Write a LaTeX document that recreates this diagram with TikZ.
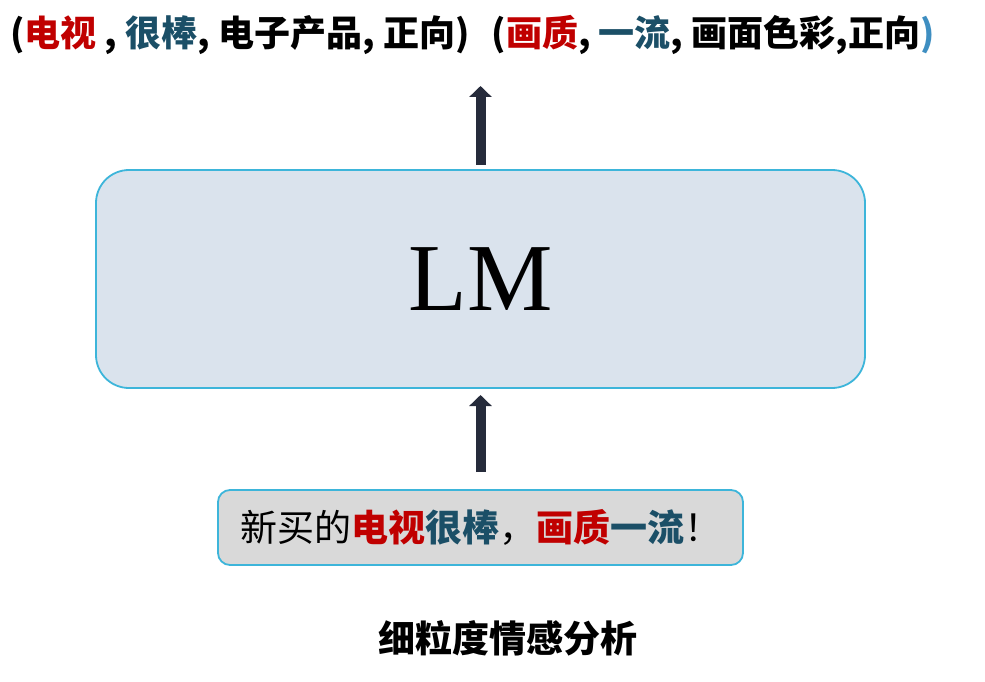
\documentclass[tikz,border=0pt]{standalone}
\usepackage{fontspec}
\usepackage{tikz}
\usetikzlibrary{arrows.meta}
\setmainfont{Liberation Serif}
\newfontfamily\cjk{Noto Sans CJK SC}
\definecolor{pdfcolor1}{RGB}{38,43,59}
\definecolor{pdfcolor2}{RGB}{61,181,218}
\definecolor{pdfcolor3}{RGB}{218,227,237}
\definecolor{pdfcolor4}{RGB}{192,0,0}
\definecolor{pdfcolor5}{RGB}{217,217,217}
\definecolor{pdfcolor7}{RGB}{27,79,103}
\definecolor{pdfcolor8}{RGB}{62,142,193}

\begin{document}
\begin{tikzpicture}[x=1bp,y=-1bp,inner sep=0pt,outer sep=0pt,
  lmbox/.style={draw=pdfcolor2,fill=pdfcolor3,line width=1.8bp,rounded corners=33bp,minimum width=769bp,minimum height=218bp},
  inbox/.style={draw=pdfcolor2,fill=pdfcolor5,line width=1.8bp,rounded corners=12bp,minimum width=525bp,minimum height=75bp},
  blockarrow/.style={draw=pdfcolor1,line width=10bp,-{Triangle[width=22bp,length=11bp]}}]
  \useasboundingbox (0,0) rectangle (985,682);
  \node[anchor=west] (out) at (10,35) {{\cjk\bfseries\fontsize{36bp}{43bp}\selectfont (\textcolor{pdfcolor4}{电视} , \textcolor{pdfcolor7}{很棒}, 电子产品, 正向)\hspace{22bp}(\textcolor{pdfcolor4}{画质}, \textcolor{pdfcolor7}{一流}, 画面色彩,正向\textcolor{pdfcolor8}{)}}};
  \coordinate (outtip) at (480.5,86);
  \node[lmbox] (lm) at (480.5,279) {{\fontsize{96bp}{96bp}\selectfont LM}};
  \node[inbox] (in) at (480.5,527.5) {{\cjk\fontsize{37bp}{44bp}\selectfont 新买的{\bfseries\color{pdfcolor4}电视}{\bfseries\color{pdfcolor7}很棒}，{\bfseries\color{pdfcolor4}画质}{\bfseries\color{pdfcolor7}一流}！}};
  \node (title) at (507.5,638) {{\cjk\bfseries\fontsize{37bp}{44bp}\selectfont 细粒度情感分析}};
  \draw[blockarrow,shorten <=5bp] (lm.north) -- (outtip);
  \draw[blockarrow,shorten <=18bp,shorten >=7bp] (in.north) -- (lm.south);
\end{tikzpicture}
\end{document}
